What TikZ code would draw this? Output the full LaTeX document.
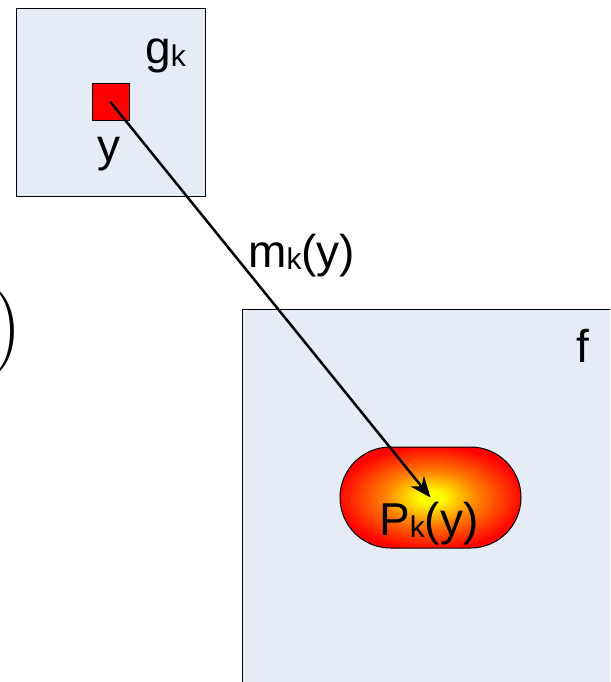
\documentclass[tikz,border=0pt]{standalone}
\usepackage{fontspec}
\newfontfamily\arial{Liberation Sans}
\usetikzlibrary{arrows.meta,shapes.misc}

\definecolor{boxblue}{RGB}{230,236,246}
\pgfdeclareradialshading{glow}{\pgfpoint{0bp}{0bp}}{color(0bp)=(yellow); color(3bp)=(yellow); color(13bp)=(orange); color(26bp)=(red); color(50bp)=(red!95!black)}
\newcommand{\subk}[1][-2pt]{\raisebox{#1}{\fontsize{30}{30}\selectfont k}}

\begin{document}
\begin{tikzpicture}[x=1pt,y=-1pt,>={Stealth[length=21pt,width=17pt]},
    panel/.style={draw=black,line width=0.8pt,fill=boxblue,inner sep=0pt},
    lbl/.style={anchor=base west,inner sep=0pt,font=\arial\fontsize{46}{46}\selectfont}]
            \useasboundingbox (0,0) rectangle (610,682);
            \clip (0,0) rectangle (610,682);
            % the two panels
            \node [panel,minimum width=189pt,minimum height=188pt] (gbox) at (110.5,102) {};
            \node [panel,anchor=north west,minimum width=400pt,minimum height=400pt] (fbox) at (242,309) {};
            \node [draw=black,line width=0.8pt,fill=red,minimum size=37pt,inner sep=0pt] (ysq) at (110.5,102) {};
            \node [rounded rectangle,draw=black,line width=1pt,shading=glow,minimum width=181pt,minimum height=101pt,inner sep=0pt] (pk) at (430.5,497.5) {};
            % labels
            \node [lbl] (gk) at (145,64) {g\subk[-3pt]};
            \node [lbl] (ylab) at (97,161) {y};
            \node [lbl] (mk) at (248,267) {m\subk(y)};
            \node [lbl] (flab) at (576,362) {f};
            \node [lbl] (pklab) at (379,535) {P\subk(y)};
            \node [anchor=base west,inner sep=0pt,font=\fontsize{87}{87}\selectfont] (paren) at (-9,353) {)};
            % the map
            \draw [->,line width=2.5pt] (ysq.center) -- (pk.center);
\end{tikzpicture}
\end{document}
